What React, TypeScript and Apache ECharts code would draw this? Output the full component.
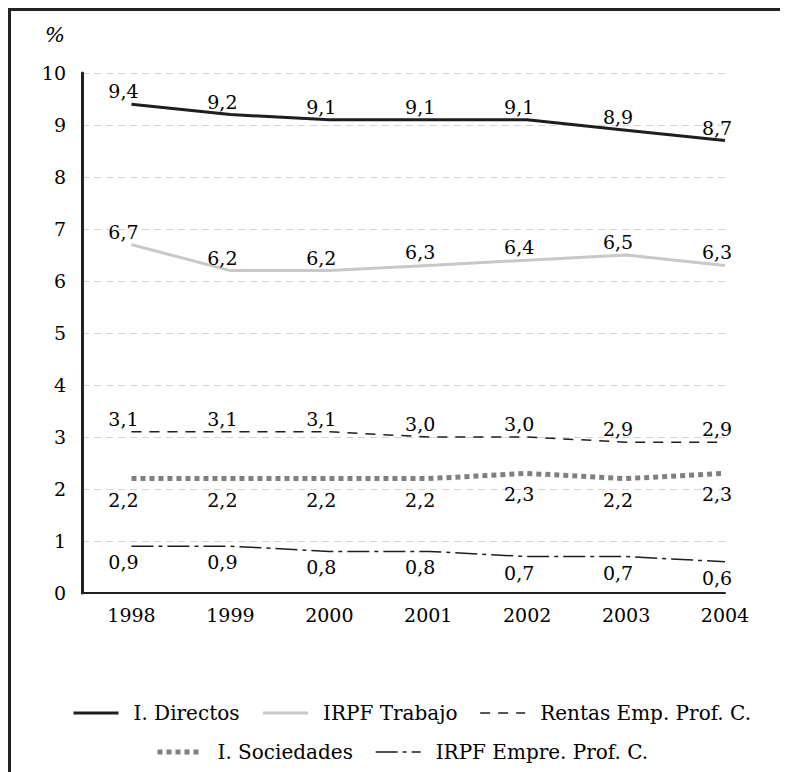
import React, { useEffect, useRef } from "react";
import * as echarts from "echarts";

const years = [1998, 1999, 2000, 2001, 2002, 2003, 2004];
const directos = [9.4, 9.2, 9.1, 9.1, 9.1, 8.9, 8.7];
const irpfTrabajo = [6.7, 6.2, 6.2, 6.3, 6.4, 6.5, 6.3];
const rentasEmp = [3.1, 3.1, 3.1, 3.0, 3.0, 2.9, 2.9];
const sociedades = [2.2, 2.2, 2.2, 2.2, 2.3, 2.2, 2.3];
const irpfEmpre = [0.9, 0.9, 0.8, 0.8, 0.7, 0.7, 0.6];
const yTicks = [0, 10, 1]; // min, max, interval

const FONT = "DejaVu Serif";
const FS = 19;
const LFS = 20;

const STYLES: Record<string, any> = {
  "I. Directos": { color: "#1e1e1e", width: 3, type: "solid" },
  "IRPF Trabajo": { color: "#c8c8c8", width: 3, type: "solid" },
  "Rentas Emp. Prof. C.": { color: "#1e1e1e", width: 1.5, type: [10, 8] },
  "I. Sociedades": { color: "#808080", width: 5, type: [5, 4], cap: "butt" },
  "IRPF Empre. Prof. C.": { color: "#1e1e1e", width: 1.5, type: [22, 5, 4, 5] },
};

const pairs = (vals: number[]) => years.map((y, i) => [y, vals[i]]);
const fmt = (p: any) => {
  const v = Array.isArray(p.value) ? p.value[1] : p.value;
  return Number(v).toFixed(1).replace(".", ",");
};

function mkSeries(name: string, vals: number[], pos: "top" | "bottom", dist: number) {
  return {
    name,
    type: "line",
    data: pairs(vals),
    symbol: "circle",
    symbolSize: 1,
    showSymbol: true,
    lineStyle: STYLES[name],
    itemStyle: { color: "rgba(0,0,0,0)", borderWidth: 0 },
    label: {
      show: true,
      position: pos,
      distance: dist,
      offset: [-8, 0],
      formatter: fmt,
      color: "#000",
      fontFamily: FONT,
      fontSize: FS,
    },
    emphasis: { disabled: true },
    z: 3,
  };
}

const legendItem = (name: string) => ({
  name,
  lineStyle: { width: STYLES[name].width },
  itemStyle: { opacity: 0 },
});

export default function App() {
  const ref = useRef<HTMLDivElement>(null);
  useEffect(() => {
    document.documentElement.style.overflow = "hidden";
    document.body.style.overflow = "hidden";
    if (!ref.current) return;
    const chart = echarts.init(ref.current, undefined, { renderer: "svg" });
    const legendCommon = {
      orient: "horizontal",
      itemWidth: 45,
      itemHeight: 14,
      itemGap: 22,
      itemStyle: { opacity: 0 },
      textStyle: {
        fontFamily: FONT,
        fontSize: LFS,
        color: "#000",
        padding: [0, 0, 0, 10],
      },
    };
    chart.setOption({
      animation: false,
      backgroundColor: "#fff",
      textStyle: { fontFamily: FONT },
      title: {
        text: "%",
        left: 29,
        top: 8,
        textStyle: {
          fontFamily: FONT,
          fontSize: 21,
          fontWeight: "normal",
          fontStyle: "italic",
          color: "#000",
        },
      },
      grid: { left: 71, top: 62, right: 55, bottom: 179, containLabel: false },
      legend: [
        {
          ...legendCommon,
          top: 687,
          left: 56,
          data: ["I. Directos", "IRPF Trabajo", "Rentas Emp. Prof. C."].map(legendItem),
        },
        {
          ...legendCommon,
          top: 726,
          left: 139,
          data: ["I. Sociedades", "IRPF Empre. Prof. C."].map(legendItem),
        },
      ],
      xAxis: {
        type: "value",
        min: 1997.5,
        max: 2004,
        splitLine: { show: false },
        axisTick: { show: false },
        axisLine: { show: true, onZero: false, lineStyle: { color: "#222", width: 2 } },
        axisLabel: {
          margin: 12,
          color: "#000",
          fontFamily: FONT,
          fontSize: FS,
          showMinLabel: false,
          formatter: (v: number) => (Number.isInteger(v) ? String(v) : ""),
        },
      },
      yAxis: {
        type: "value",
        min: yTicks[0],
        max: yTicks[1],
        interval: yTicks[2],
        axisLine: { show: true, lineStyle: { color: "#222", width: 3 } },
        axisTick: { show: false },
        axisLabel: {
          margin: 16,
          color: "#000",
          fontFamily: FONT,
          fontSize: FS,
        },
        splitLine: {
          show: true,
          lineStyle: { color: "#d4d4d4", width: 1, type: [7, 5] },
        },
      },
      series: [
        mkSeries("I. Directos", directos, "top", 3),
        mkSeries("IRPF Trabajo", irpfTrabajo, "top", 3),
        mkSeries("Rentas Emp. Prof. C.", rentasEmp, "top", 3),
        mkSeries("I. Sociedades", sociedades, "bottom", 11),
        mkSeries("IRPF Empre. Prof. C.", irpfEmpre, "bottom", 6),
      ],
    });
    return () => chart.dispose();
  }, []);
  return (
    <div
      style={{
        width: 772,
        height: 764,
        borderLeft: "3px solid #222",
        borderTop: "3px solid #222",
        boxSizing: "border-box",
      }}
    >
      <div ref={ref} style={{ width: 769, height: 761 }} />
    </div>
  );
}
